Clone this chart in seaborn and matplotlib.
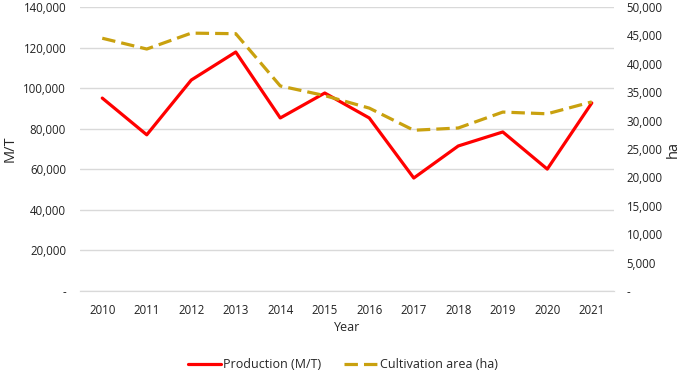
import numpy as np
import pandas as pd
import matplotlib
matplotlib.use("Agg")
import matplotlib.pyplot as plt
import seaborn as sns
from matplotlib.ticker import FuncFormatter, MultipleLocator

# Données
years = [2010, 2011, 2012, 2013, 2014, 2015, 2016, 2017, 2018, 2019, 2020, 2021]
production = [95100, 77000, 104000, 117800, 85300, 97600, 85300, 55700, 71500, 78400, 60100, 92700]
cultivation = [44500, 42600, 45400, 45300, 36100, 34400, 32200, 28300, 28700, 31500, 31200, 33300]

df = pd.DataFrame({"Year": years, "Production": production, "Cultivation": cultivation})

sns.set_style("white")
plt.rcParams["font.family"] = ["Open Sans", "DejaVu Sans"]

fig = plt.figure(figsize=(6.85, 3.76), dpi=100)
ax = fig.add_axes([0.1168, 0.226, 0.7796, 0.7554])
ax2 = ax.twinx()

sns.lineplot(data=df, x="Year", y="Production", ax=ax, color="#FF0000",
             linewidth=2.3, label="Production (M/T)", legend=False)
sns.lineplot(data=df, x="Year", y="Cultivation", ax=ax2, color="#C9A10F",
             linewidth=2.3, linestyle=(0, (4.2, 1.9)), label="Cultivation area (ha)",
             legend=False)


def fmt(v, pos):
    return "-" if v == 0 else f"{v:,.0f}"


ax.set_xlim(2009.5, 2021.5)
ax.set_xticks(years)
ax.set_ylim(0, 140000)
ax.yaxis.set_major_locator(MultipleLocator(20000))
ax.yaxis.set_major_formatter(FuncFormatter(fmt))
ax2.set_ylim(0, 50000)
ax2.yaxis.set_major_locator(MultipleLocator(5000))
ax2.yaxis.set_major_formatter(FuncFormatter(fmt))

ax.grid(axis="y", color="#D9D9D9", linewidth=1)
ax.set_axisbelow(True)
for a in (ax, ax2):
    for s in ["top", "left", "right"]:
        a.spines[s].set_visible(False)
    a.spines["bottom"].set_color("#D9D9D9")
    a.tick_params(length=0, labelsize=8.3, colors="#222222")
ax.tick_params(axis="y", pad=10)
ax.tick_params(axis="x", pad=9)
ax2.tick_params(axis="y", pad=9)

ax.set_xlabel("Year", fontsize=9, va="center")
ax.set_ylabel("M/T", fontsize=10.5, va="center")
ax2.set_ylabel("ha", fontsize=10.5, rotation=90, va="center")
ax.xaxis.set_label_coords(0.5, -0.127)
ax.yaxis.set_label_coords(-0.131, 0.5)
ax2.yaxis.set_label_coords(1.11, 0.5)

h1, l1 = ax.get_legend_handles_labels()
h2, l2 = ax2.get_legend_handles_labels()
fig.legend(h1 + h2, l1 + l2, loc="center", bbox_to_anchor=(0.5, 0.03), ncol=2,
           frameon=False, fontsize=9, handlelength=2.7, columnspacing=1.8,
           handletextpad=0.15)

plt.savefig("out.png", dpi=100)
